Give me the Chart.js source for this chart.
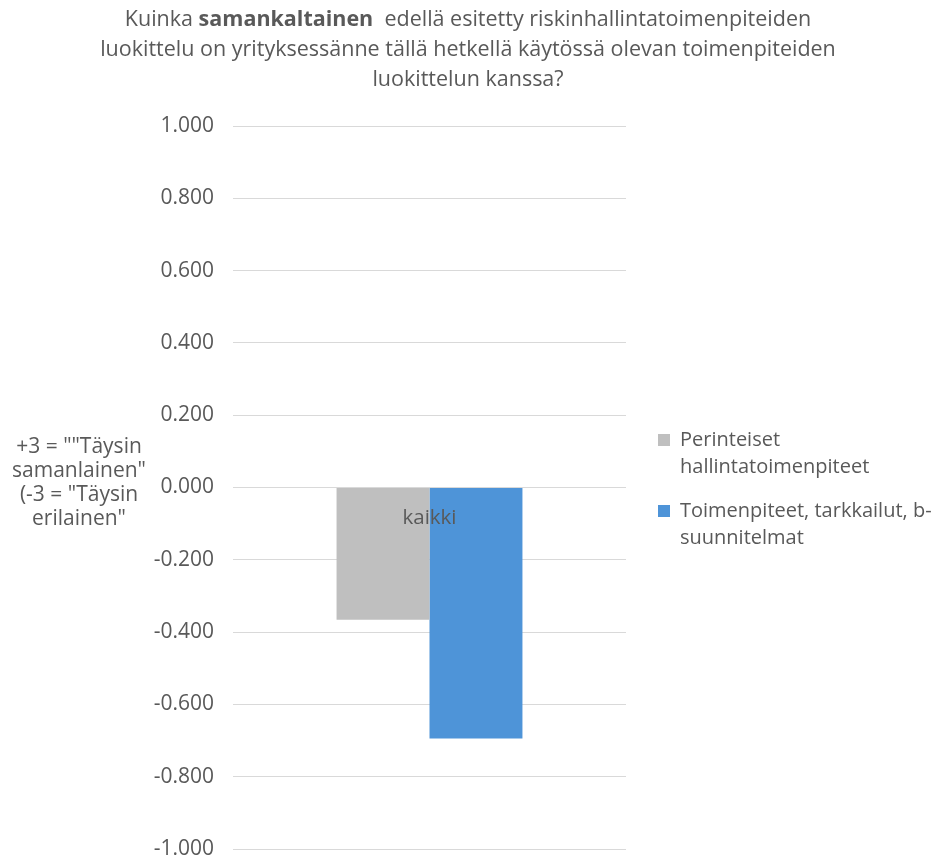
<!DOCTYPE html>
<html>
<head>
<meta charset="utf-8">
<script src="https://cdn.jsdelivr.net/npm/chart.js@4"></script>
<style>
  html, body { margin: 0; padding: 0; background: #fff; }
  #wrap { width: 936px; height: 861px; }
</style>
</head>
<body>
<div id="wrap"><canvas id="chart" width="936" height="861"></canvas></div>
<script>
// Data
const categories = ["kaikki"];
const seriesNames = [
  ["Perinteiset", "hallintatoimenpiteet"],
  ["Toimenpiteet, tarkkailut, b-", "suunnitelmat"],
];
const perinteiset = [-0.366];
const toimenpiteet = [-0.694];
const yMin = -1;
const yMax = 1;
const yStep = 0.2;

const titleLines = [
  [["Kuinka ", false], ["samankaltainen", true], ["  edellä esitetty riskinhallintatoimenpiteiden", false]],
  [["luokittelu on yrityksessänne tällä hetkellä käytössä olevan toimenpiteiden", false]],
  [["luokittelun kanssa?", false]],
];
const yTitleLines = ['+3 = ""Täysin', 'samanlainen"', '(-3 = "Täysin', 'erilainen"'];

const textColor = "#595959";
const fontFamily = "'Open Sans', 'Noto Sans', sans-serif";

// Title with a bold word + horizontal y-axis title
const extraText = {
  id: "extraText",
  afterDraw(chart) {
    const ctx = chart.ctx;
    ctx.save();
    ctx.fillStyle = textColor;
    ctx.textBaseline = "middle";
    // title
    titleLines.forEach((parts, i) => {
      let total = 0;
      parts.forEach(([t, b]) => {
        ctx.font = (b ? "bold " : "") + "21.5px " + fontFamily;
        total += ctx.measureText(t).width;
      });
      let x = 468 - total / 2;
      const y = 20 + i * 30;
      ctx.textAlign = "left";
      parts.forEach(([t, b]) => {
        ctx.font = (b ? "bold " : "") + "21.5px " + fontFamily;
        ctx.fillText(t, x, y);
        x += ctx.measureText(t).width;
      });
    });
    // y axis title
    ctx.font = "21px " + fontFamily;
    ctx.textAlign = "center";
    yTitleLines.forEach((t, i) => {
      ctx.fillText(t, 79, 447 + i * 24);
    });
    ctx.restore();
  },
};

// Fixed legend width and a gap between plot and legend
const legendBox = {
  id: "legendBox",
  beforeLayout(chart) {
    const lg = chart.legend;
    if (lg && !lg._fitPatched) {
      const fit = lg.fit.bind(lg);
      lg.fit = function () {
        fit();
        this.width = 300;
      };
      lg._fitPatched = true;
    }
  },
  afterLayout(chart) {
    const lg = chart.legend;
    const w = lg.right - lg.left;
    lg.left = chart.chartArea.right + 15;
    lg.right = lg.left + w;
    lg.top += 5;
    lg.bottom += 5;
  },
};

const ctx = document.getElementById("chart").getContext("2d");
const chart = new Chart(ctx, {
  type: "bar",
  data: {
    labels: categories,
    datasets: [
      {
        label: seriesNames[0],
        data: perinteiset,
        backgroundColor: "#bfbfbf",
        categoryPercentage: 0.473,
        barPercentage: 1.0,
      },
      {
        label: seriesNames[1],
        data: toimenpiteet,
        backgroundColor: "#4e94d8",
        categoryPercentage: 0.473,
        barPercentage: 1.0,
      },
    ],
  },
  options: {
    responsive: false,
    animation: false,
    layout: {
      padding: { top: 126, bottom: 12, left: 133, right: 10 },
    },
    scales: {
      x: {
        position: { y: 0 },
        grid: { display: false, drawTicks: false },
        border: { display: false },
        ticks: {
          z: 1,
          color: textColor,
          padding: 18,
          font: { family: fontFamily, size: 20.5 },
        },
      },
      y: {
        min: yMin,
        max: yMax,
        afterFit: (s) => {
          s.width = 100;
          s.paddingTop = 0;
          s.paddingBottom = 0;
        },
        ticks: {
          stepSize: yStep,
          color: textColor,
          padding: 19,
          font: { family: fontFamily, size: 21 },
          callback: (v) => (Math.abs(v) < 1e-9 ? 0 : v).toFixed(3),
        },
        grid: { color: "#d9d9d9", drawTicks: false },
        border: { display: false },
      },
    },
    plugins: {
      title: { display: false },
      tooltip: { enabled: false },
      legend: {
        position: "right",
        align: "center",
        labels: {
          color: textColor,
          boxWidth: 12,
          boxHeight: 12,
          padding: 17,
          font: { family: fontFamily, size: 20, lineHeight: 1.35 },
        },
      },
    },
  },
  plugins: [extraText, legendBox],
});
</script>
</body>
</html>
